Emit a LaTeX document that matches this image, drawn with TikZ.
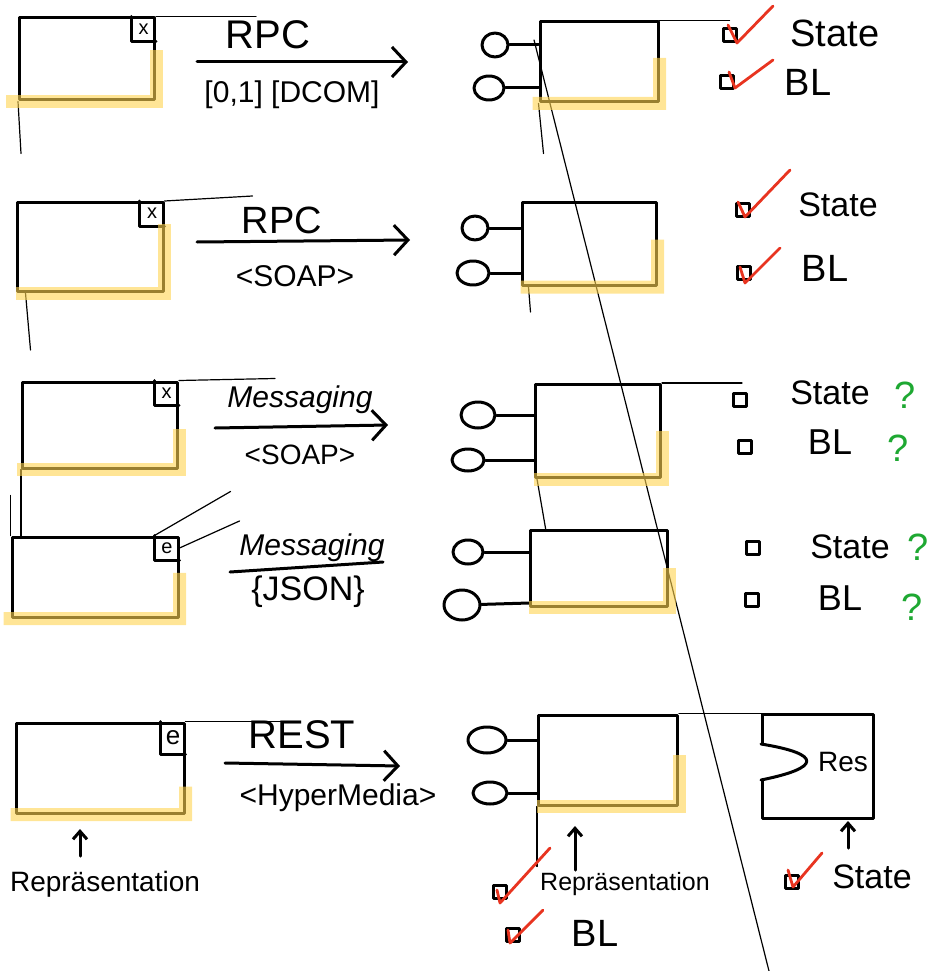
\documentclass[tikz,border=0pt]{standalone}
\usepackage{fontspec}
\setmainfont{Liberation Sans}
\usetikzlibrary{arrows.meta,calc,shapes.geometric}

\definecolor{hlyellow}{RGB}{255,212,80}
\definecolor{tickred}{RGB}{232,52,32}
\definecolor{qgreen}{RGB}{30,168,50}
\newcommand{\fs}[1]{\fontsize{#1}{#1}\selectfont}

\begin{document}
\begin{tikzpicture}[x=1pt, y=-1pt,
  line width=3pt, line cap=round, line join=round,
  box/.style={draw, rectangle, inner sep=0pt},
  tabbox/.style={inner sep=0pt, minimum width=22pt, minimum height=22pt,
    anchor=north east, font=\fs{20}},
  lolli/.style={draw, ellipse, inner sep=0pt, minimum width=30pt, minimum height=24pt},
  chk/.style={draw, rectangle, inner sep=0pt, minimum size=13pt, line width=2.8pt},
  hl/.style={draw=hlyellow, opacity=.6, line width=13pt, line cap=butt, line join=miter},
  thin/.style={line width=1.2pt},
  tick/.style={draw=tickred, line width=2.8pt},
  qmark/.style={inner sep=0pt, text=qgreen, font=\fs{38}},
  lbl/.style={inner sep=0pt},
  flow/.style={-{Straight Barb[length=14pt,width=30pt]}},
  up/.style={-{Straight Barb[length=8pt,width=14pt]}}
]
\useasboundingbox (0,0) rectangle (938,971);

% the cut between both sides
\coordinate (cuttop) at (534,40);
\coordinate (cutbot) at (769,971);
\draw [thin] (cuttop) -- (cutbot);

% ---- RPC / DCOM
\node [box, minimum width=135pt, minimum height=82pt] (cl1) at (87,59) {};
\node [tabbox] (x1) at (cl1.north east) {x};
\draw (x1.north west) -- (x1.south west) -- (x1.south east);
\draw [thin] (cl1.north east) -- ++(100,0);
\draw [thin] (cl1.south west) -- ++(3,52);
\draw [hl] ([xshift=-12pt]cl1.south west) -- (cl1.south east) -- ($(cl1.south east)!.6!(cl1.north east)$);

\node [lbl, font=\fs{40}] (rpc1) at (268,35) {RPC};
\coordinate (f1) at (197,62);
\draw [flow] (f1) -- ++(211,0);
\node [lbl, font=\fs{30}] (dcom) at (292,95) {[0,1] [DCOM]};

\node [box, minimum width=118pt, minimum height=80pt] (sv1) at (599,62) {};
\node [lolli, minimum width=26pt] (p11) at (495,45) {};
\node [lolli] (p12) at (489,88) {};
\draw (p11) -- (p11 -| sv1.west);
\draw (p12) -- (p12 -| sv1.west);
\draw [thin] (sv1.north east) -- ++(70,0);
\draw [thin] (sv1.south west) -- ++(5,50);
\draw [hl] ([xshift=-6pt]sv1.south west) -- (sv1.south east) -- ($(sv1.south east)!.55!(sv1.north east)$);

\node [chk] (c11) at (730,35) {};
\node [lbl, font=\fs{38}] (st1) at (835,33) {State};
\node [chk] (c12) at (727,82) {};
\node [lbl, font=\fs{38}] (bl1) at (808,82) {BL};
\draw [tick] (c11) ++(-2,-10) -- ++(9,18) -- ++(36,-37);
\draw [tick] (c12) ++(2,-10) -- ++(6,16) -- ++(38,-28);

% ---- RPC / SOAP
\node [box, minimum width=146pt, minimum height=89pt] (cl2) at (90,247) {};
\node [tabbox] (x2) at (cl2.north east) {x};
\draw (x2.north west) -- (x2.south west) -- (x2.south east);
\draw [thin] (cl2.north east) -- ++(88,-5);
\draw [thin] ([xshift=10pt]cl2.south west) -- ++(5,57);
\draw [hl] (cl2.south west) -- (cl2.south east) -- ($(cl2.south east)!.75!(cl2.north east)$);

\node [lbl, font=\fs{38}] (rpc2) at (282,220) {RPC};
\coordinate (f2) at (197,242);
\draw [flow] (f2) -- ++(213,-2);
\node [lbl, font=\fs{30}] (soap2) at (295,276) {<SOAP>};

\node [box, minimum width=134pt, minimum height=83pt] (sv2) at (589,244) {};
\node [lolli, minimum width=26pt] (p21) at (475,228) {};
\node [lolli, minimum width=32pt] (p22) at (473,273) {};
\draw (p21) -- (p21 -| sv2.west);
\draw (p22) -- (p22 -| sv2.west);
\draw [thin] ([xshift=8pt]sv2.south west) -- ++(2,25);
\draw [hl] (sv2.south west) -- (sv2.south east) -- ($(sv2.south east)!.55!(sv2.north east)$);

\node [chk] (c21) at (743,210) {};
\node [lbl, font=\fs{34}] (st2) at (838,205) {State};
\node [chk] (c22) at (744,273) {};
\node [lbl, font=\fs{38}] (bl2) at (825,268) {BL};
\draw [tick] (c21) ++(-5,-8) -- ++(7,15) -- ++(45,-47);
\draw [tick] (c22) ++(-4,-6) -- ++(5,16) -- ++(35,-35);

% ---- Messaging / SOAP
\node [box, minimum width=155pt, minimum height=86pt] (cl3) at (100,425) {};
\node [tabbox] (x3) at (cl3.north east) {x};
\draw (x3.north west) -- (x3.south west) -- (x3.south east);
\draw [thin] (cl3.north east) -- ++(96,-2);
\draw [thin] (cl3.south west) -- ++(0,69);
\draw [hl] ([xshift=-4pt]cl3.south west) -- (cl3.south east) -- ($(cl3.south east)!.45!(cl3.north east)$);

\node [lbl, font=\fs{30}\itshape] (msg3) at (300,400) {Messaging};
\coordinate (f3) at (215,428);
\draw [flow] (f3) -- ++(173,-3);
\node [lbl, font=\fs{28}] (soap3) at (300,455) {<SOAP>};

\node [box, minimum width=125pt, minimum height=93pt] (sv3) at (598,431) {};
\node [lolli, minimum width=34pt, minimum height=26pt] (p31) at (478,415) {};
\node [lolli, minimum width=32pt, minimum height=22pt] (p32) at (468,460) {};
\draw (p31) -- (p31 -| sv3.west);
\draw (p32) -- (p32 -| sv3.west);
\draw [thin] (sv3.north east) -- ++(80,0);
\draw [thin] ([xshift=3pt]sv3.south west) -- ++(9,52);
\draw [hl] (sv3.south west) -- (sv3.south east) -- ($(sv3.south east)!.5!(sv3.north east)$);

\node [chk] (c31) at (740,400) {};
\node [lbl, font=\fs{34}] (st3) at (830,393) {State};
\node [qmark] (q31) at (905,395) {?};
\node [chk] (c32) at (745,447) {};
\node [lbl, font=\fs{36}] (bl3) at (830,442) {BL};
\node [qmark] (q32) at (898,448) {?};

% ---- Messaging / JSON
\node [box, minimum width=166pt, minimum height=80pt] (cl4) at (95,577) {};
\node [tabbox] (e4) at (cl4.north east) {e};
\draw (e4.north west) -- (e4.south west) -- (e4.south east);
\draw [thin] (e4.north west) -- ++(76,-44);
\draw [thin] (e4.east) -- ++(60,-27);
\draw [thin] (cl4.north west) -- ++(0,-40);
\draw [hl] ([xshift=-7pt]cl4.south west) -- (cl4.south east) -- ($(cl4.south east)!.55!(cl4.north east)$);

\node [lbl, font=\fs{30}\itshape] (msg4) at (312,548) {Messaging};
\coordinate (f4) at (230,572);
\draw (f4) -- ++(153,-10);
\node [lbl, font=\fs{34}] (json) at (308,592) {\{JSON\}};

\node [box, minimum width=137pt, minimum height=76pt] (sv4) at (599,568) {};
\node [lolli] (p41) at (468,552) {};
\node [lolli, minimum width=36pt, minimum height=30pt] (p42) at (462,605) {};
\draw (p41) -- (p41 -| sv4.west);
\draw (p42) -- ([yshift=2pt]p42 -| sv4.west);
\draw [hl] (sv4.south west) -- (sv4.south east) -- ($(sv4.south east)!.5!(sv4.north east)$);

\node [chk] (c41) at (753,548) {};
\node [lbl, font=\fs{34}] (st4) at (850,547) {State};
\node [qmark] (q41) at (918,547) {?};
\node [chk] (c42) at (752,600) {};
\node [lbl, font=\fs{36}] (bl4) at (840,598) {BL};
\node [qmark] (q42) at (912,607) {?};

% ---- REST / HyperMedia
\node [box, minimum width=168pt, minimum height=90pt] (cl5) at (100,768) {};
\node [tabbox, minimum height=30pt, font=\fs{26}] (e5) at (cl5.north east) {e};
\draw (e5.north west) -- (e5.south west) -- (e5.south east);
\draw [thin] (cl5.north east) -- ++(100,0);
\draw [hl] ([xshift=-4pt]cl5.south west) -- (cl5.south east) -- ($(cl5.south east)!.3!(cl5.north east)$);

\node [lbl, font=\fs{40}] (rest) at (302,735) {REST};
\coordinate (f5) at (225,763);
\draw [flow] (f5) -- ++(175,3);
\node [lbl, font=\fs{30}] (hyper) at (338,798) {<HyperMedia>};

\coordinate (u1) at (80,856);
\draw [up] (u1) -- ++(0,-27);
\node [lbl, font=\fs{28}] (rep1) at (105,884) {Repräsentation};

\node [box, minimum width=139pt, minimum height=90pt] (sv5) at (608,760) {};
\node [lolli, minimum width=38pt, minimum height=26pt] (p51) at (487,740) {};
\node [lolli, minimum width=34pt, minimum height=22pt] (p52) at (490,793) {};
\draw (p51) -- (p51 -| sv5.west);
\draw (p52) -- (p52 -| sv5.west);
\draw [thin] (sv5.north east) -- ++(88,0);
\draw [thin] (sv5.south west) -- ++(0,60);
\draw [hl] (sv5.south west) -- (sv5.south east) -- ($(sv5.south east)!.55!(sv5.north east)$);

\coordinate (u2) at (575,870);
\draw [up] (u2) -- ++(0,-44);
\node [chk] (c51) at (500,892) {};
\node [lbl, font=\fs{25}] (rep2) at (625,884) {Repräsentation};
\node [chk] (c52) at (513,935) {};
\node [lbl, font=\fs{38}] (bl5) at (595,933) {BL};
\draw [tick] (c51) ++(-3,-2) -- ++(3,13) -- ++(50,-55);
\draw [tick] (c52) ++(-5,-5) -- ++(2,13) -- ++(33,-33);

% resource
\node [box, minimum width=111pt, minimum height=104pt] (res) at (818,766) {};
\draw [fill=white] ([yshift=22pt]res.west) .. controls +(62,10) and +(60,-12) .. ([yshift=-14pt]res.west);
\node [lbl, font=\fs{28}] (reslbl) at (843,762) {Res};
\coordinate (u3) at (848,848);
\draw [up] (u3) -- ++(0,-27);
\node [chk] (c53) at (792,882) {};
\node [lbl, font=\fs{34}] (st5) at (872,877) {State};
\draw [tick] (c53) ++(-4,-12) -- ++(5,17) -- ++(29,-34);

\end{tikzpicture}
\end{document}
